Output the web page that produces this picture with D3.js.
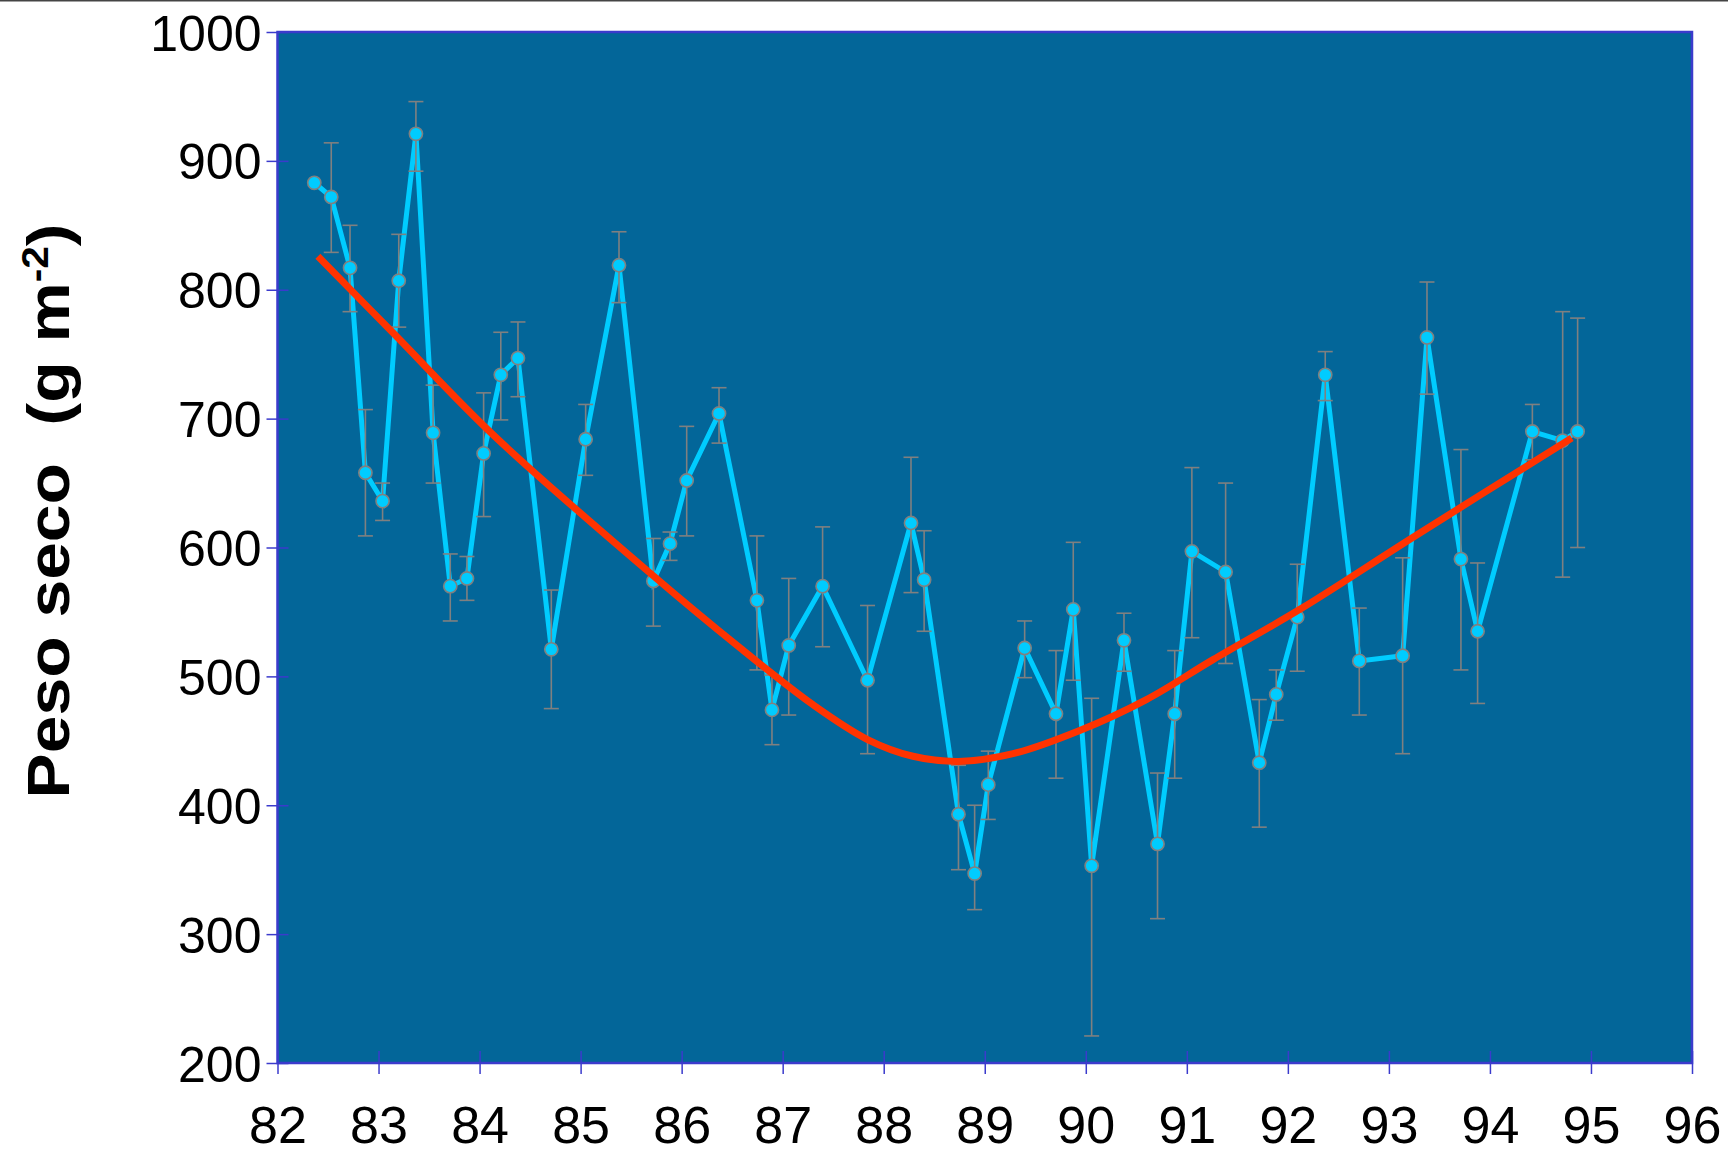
<!DOCTYPE html>
<html>
<head>
<meta charset="utf-8">
<script src="https://cdn.jsdelivr.net/npm/d3@7"></script>
<style>
  body { margin: 0; background: #fff; }
  svg text { font-family: "Liberation Sans", Arial, sans-serif; fill: #000; }
</style>
</head>
<body>
<svg id="chart" width="1728" height="1154"></svg>
<script>
// sampling dates (decimal years) and mean dry weight
var years = [82.364, 82.532, 82.718, 82.87, 83.04, 83.2, 83.37, 83.54, 83.71, 83.875,
             84.04, 84.21, 84.38, 84.71, 85.05, 85.38, 85.72, 85.885, 86.05, 86.37,
             86.745, 86.894, 87.06, 87.395, 87.84, 88.27, 88.4, 88.74, 88.9, 89.035,
             89.395, 89.705, 89.876, 90.058, 90.378, 90.71, 90.88, 91.05, 91.384, 91.717,
             91.885, 92.093, 92.37, 92.707, 93.136, 93.377, 93.713, 93.878, 94.42, 94.72,
             94.868];
var pesoSeco = [883, 872, 817, 658, 636, 807, 921, 689, 570, 576,
                673, 734, 747, 521, 684, 819, 574, 603, 652, 704,
                559, 474, 524, 570, 497, 619, 575, 393, 347, 416,
                522, 471, 552, 353, 528, 370, 471, 597, 581, 433,
                486, 546, 734, 512, 516, 763, 591, 535, 690, 683,
                690];
// error bar ends
var errHi = [null, 914, 850, 707, 650, 843, 946, 726, 595, 593,
             720, 767, 775, 567, 711, 845, 607, 612, 694, 724,
             609, 501, 576, 616, 555, 670, 613, 431, 400, 442,
             543, 520, 604, 483, 549, 425, 520, 662, 650, 482,
             505, 587, 752, 553, 592, 806, 676, 588, 711, 783,
             778];
var errLo = [null, 829, 783, 609, 621, 771, 892, 650, 543, 559,
             624, 699, 717, 475, 656, 790, 539, 590, 609, 681,
             505, 447, 470, 523, 440, 565, 535, 350, 319, 389,
             499, 421, 497, 221, 504, 312, 421, 530, 510, 383,
             466, 504, 714, 470, 440, 719, 505, 479, 668, 577,
             600];

// trend curve
var trendYears  = [82.40, 83.15, 84.14, 85.72, 86.58, 87.30, 87.84, 88.29, 88.74, 89.28, 89.94, 90.60, 91.26, 92.14, 93.24, 94.81];
var trendValues = [826, 766, 687, 578, 522, 478, 451, 438, 434, 440, 458, 482, 513, 553, 608, 685];

var xTicks = d3.range(82, 97, 1);
var yTicks = d3.range(200, 1001, 100);

var plotL = 277.5, plotR = 1692, plotT = 32, plotB = 1063;

var svg = d3.select("#chart");

// thin rule along the top of the picture
svg.append("line")
    .attr("x1", 0).attr("x2", 1728)
    .attr("y1", 0.75).attr("y2", 0.75)
    .attr("stroke", "#444").attr("stroke-width", 1.5);

var x = d3.scaleLinear().domain([82, 96]).range([plotL, plotR]);
var y = d3.scaleLinear().domain([200, 1000]).range([plotB, plotT]);

// plot background
svg.append("rect")
    .attr("x", plotL).attr("y", plotT)
    .attr("width", plotR - plotL).attr("height", plotB - plotT)
    .attr("fill", "#036699");

var rows = years.map(function(d, i) {
    return { x: d, v: pesoSeco[i], hi: errHi[i], lo: errLo[i] };
});

// series line
svg.append("path")
    .datum(rows)
    .attr("fill", "none")
    .attr("stroke", "#00ccff")
    .attr("stroke-width", 5)
    .attr("d", d3.line().x(function(d) { return x(d.x); }).y(function(d) { return y(d.v); }));

// error bars
var eb = svg.append("g")
    .attr("stroke", "#808080")
    .attr("stroke-width", 1.6)
    .selectAll("g")
    .data(rows.filter(function(d) { return d.hi != null; }))
    .enter().append("g");

eb.append("line")
    .attr("x1", function(d) { return x(d.x); })
    .attr("x2", function(d) { return x(d.x); })
    .attr("y1", function(d) { return y(d.hi); })
    .attr("y2", function(d) { return y(d.lo); });
eb.append("line")
    .attr("x1", function(d) { return x(d.x) - 7.5; })
    .attr("x2", function(d) { return x(d.x) + 7.5; })
    .attr("y1", function(d) { return y(d.hi); })
    .attr("y2", function(d) { return y(d.hi); });
eb.append("line")
    .attr("x1", function(d) { return x(d.x) - 7.5; })
    .attr("x2", function(d) { return x(d.x) + 7.5; })
    .attr("y1", function(d) { return y(d.lo); })
    .attr("y2", function(d) { return y(d.lo); });

// markers
svg.append("g")
    .selectAll("circle")
    .data(rows)
    .enter().append("circle")
    .attr("cx", function(d) { return x(d.x); })
    .attr("cy", function(d) { return y(d.v); })
    .attr("r", 6.6)
    .attr("fill", "#00ccff")
    .attr("stroke", "#808080")
    .attr("stroke-width", 1.6);

// trend
var trend = trendYears.map(function(d, i) { return [d, trendValues[i]]; });
svg.append("path")
    .datum(trend)
    .attr("fill", "none")
    .attr("stroke", "#ff3300")
    .attr("stroke-width", 7)
    .attr("d", d3.line()
        .x(function(d) { return x(d[0]); })
        .y(function(d) { return y(d[1]); })
        .curve(d3.curveCatmullRom.alpha(0.5)));

// frame
svg.append("rect")
    .attr("x", plotL).attr("y", plotT)
    .attr("width", plotR - plotL).attr("height", plotB - plotT)
    .attr("fill", "none")
    .attr("stroke", "#3b3bcc")
    .attr("stroke-width", 2.5);

// y axis
var yAxis = svg.append("g")
    .attr("transform", "translate(" + plotL + ",0)")
    .call(d3.axisLeft(y).tickValues(yTicks).tickFormat(d3.format("d")).tickSize(11).tickPadding(5));
yAxis.select(".domain").remove();
yAxis.selectAll(".tick line").attr("x1", 11).attr("stroke", "#3b3bcc").attr("stroke-width", 1.5);
yAxis.selectAll(".tick text")
    .attr("font-size", 50)
    .attr("dy", "0.36em");

// x axis
var xAxis = svg.append("g")
    .attr("transform", "translate(0," + plotB + ")")
    .call(d3.axisBottom(x).tickValues(xTicks).tickFormat(d3.format("d")).tickSize(11));
xAxis.select(".domain").remove();
xAxis.selectAll(".tick line").attr("y1", -12).attr("stroke", "#3b3bcc").attr("stroke-width", 1.5);
xAxis.selectAll(".tick text")
    .attr("font-size", 52)
    .attr("y", 80)
    .attr("dy", 0);
svg.selectAll(".tick text").attr("fill", "#000").attr("font-family", "Liberation Sans, Arial, sans-serif");

// y axis title, slightly stretched along its run like the original
var title = svg.append("text")
    .attr("transform", "translate(69,511) rotate(-90) scale(1.13,1)")
    .attr("text-anchor", "middle")
    .attr("font-size", 60)
    .attr("font-weight", "bold");
title.append("tspan").text("Peso seco\u00a0\u00a0(g m");
title.append("tspan").attr("font-size", 36).attr("dy", -21).text("-2");
title.append("tspan").attr("dy", 21).text(")");
</script>
</body>
</html>
